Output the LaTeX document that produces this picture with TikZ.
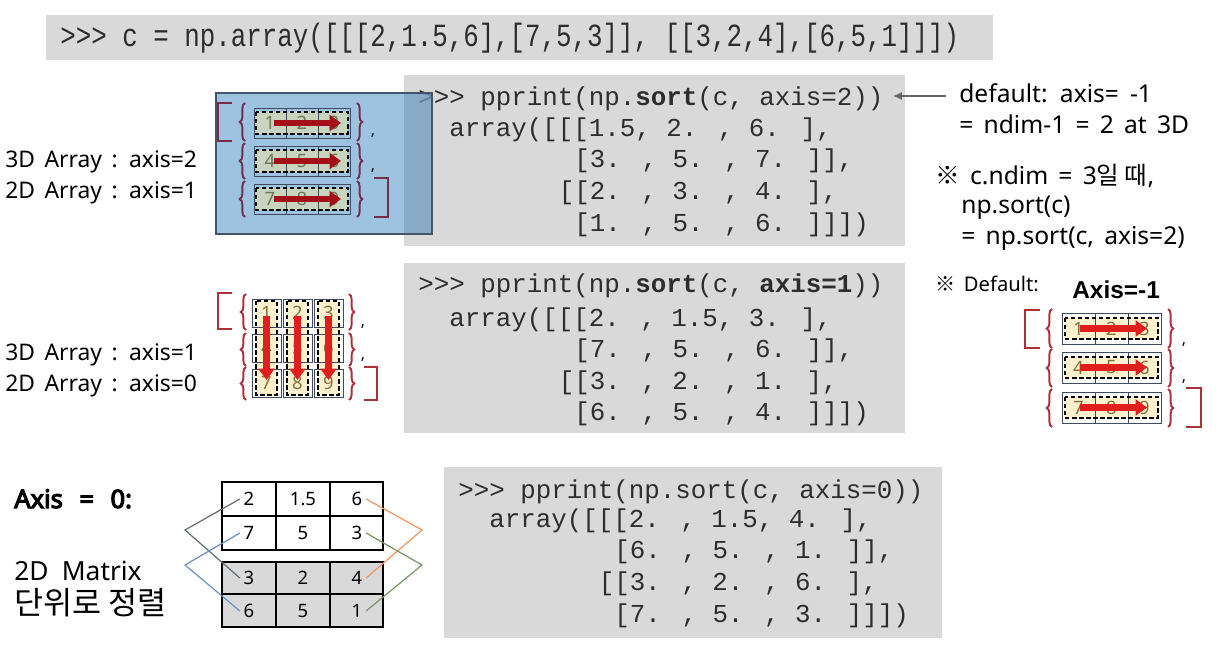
\documentclass[tikz,border=0pt]{standalone}
\usepackage{fontspec}
\setmainfont{Noto Sans}[WordSpace=1.6]
\newfontfamily\nsbold{Noto Sans}[FakeBold=4.5,WordSpace=1.6]
\newfontfamily\kr{Noto Sans CJK KR}
\newfontfamily\codefont{Liberation Mono}
\newfontfamily\arialfont{Liberation Sans}
\usetikzlibrary{arrows.meta,decorations.pathreplacing}
\definecolor{codebg}{RGB}{217,217,217}
\definecolor{codefg}{RGB}{45,45,45}
\definecolor{brc}{RGB}{176,48,58}
\definecolor{beige}{RGB}{253,240,205}
\definecolor{numcol}{RGB}{135,115,60}
\definecolor{arrred}{RGB}{225,30,30}
\definecolor{cellline}{RGB}{60,75,95}
\definecolor{ovblue}{RGB}{115,169,212}
\definecolor{ovline}{RGB}{68,84,106}
\definecolor{dkred}{RGB}{165,15,25}
\definecolor{dkbrc}{RGB}{120,45,75}
\definecolor{dkbeige}{RGB}{200,212,190}
\definecolor{dknum}{RGB}{110,120,90}
\definecolor{gline}{RGB}{100,110,120}
\definecolor{bline}{RGB}{110,145,195}
\definecolor{oline}{RGB}{240,150,95}
\definecolor{vline}{RGB}{120,150,100}
\definecolor{gridfill}{RGB}{217,217,217}
\begin{document}
\begin{tikzpicture}[x=0.02cm,y=-0.02cm,
 codebox/.style={fill=codebg,draw=none},
 code/.style={font=\codefont\fontsize{14.7}{17}\selectfont, text=codefg, anchor=base west, inner sep=0pt},
 lbl/.style={font=\fontsize{13}{16}\selectfont, anchor=base west, inner sep=0pt},
 note/.style={font=\fontsize{14}{17}\selectfont, anchor=base west, inner sep=0pt},
 cellbox/.style={draw=cellline, line width=0.5pt},
 dashbox/.style={draw=black, line width=0.9pt, dash pattern=on 2.5pt off 1.5pt},
 num/.style={font=\fontsize{10.5}{12}\selectfont, text=numcol, inner sep=0pt},
 redarrow/.style={draw=arrred, line width=3.6pt, -{Triangle[length=6.5pt,width=9pt]}},
 bracestyle/.style={decorate, decoration={brace,amplitude=3pt}, draw=brc, line width=1.1pt},
 bkt/.style={draw=brc, line width=1.4pt},
 comma/.style={font=\fontsize{9}{10}\selectfont, inner sep=0pt, anchor=base},
 gnum/.style={font=\fontsize{10.5}{12}\selectfont, inner sep=2pt},
 conn/.style={line width=0.7pt},
 gridline/.style={draw=black, line width=1.1pt},
]
\path[use as bounding box] (0,0) rectangle (1217,645);

% ---------- top bar ----------
\path[codebox] (46,15) rectangle (993,60);
\node[code] (top) at (60,47) {\scalebox{1}[1.25]{>{}>{}> c = np.array([[[2,1.5,6],[7,5,3]], [[3,2,4],[6,5,1]]])}};

% ---------- code box 1 ----------
\path[codebox] (404,75) rectangle (905,246);
\node[code] (c1a) at (418,106) {>{}>{}> pprint(np.{\bfseries sort}(c, axis=2))};
\node[code] (c1b) at (449,137) {array([[[1.5, 2. , 6. ],};
\node[code] (c1c) at (574,168) {[3. , 5. , 7. ]],};
\node[code] (c1d) at (558.4,200) {[[2. , 3. , 4. ],};
\node[code] (c1e) at (574,232) {[1. , 5. , 6. ]]])};

% ---------- code box 2 ----------
\path[codebox] (404,263) rectangle (905,433);
\node[code] (c2a) at (418,293) {>{}>{}> pprint(np.{\bfseries sort}(c, {\bfseries axis=1}))};
\node[code] (c2b) at (449,326) {array([[[2. , 1.5, 3. ],};
\node[code] (c2c) at (574,357) {[7. , 5. , 6. ]],};
\node[code] (c2d) at (558.4,389) {[[3. , 2. , 1. ],};
\node[code] (c2e) at (574,420) {[6. , 5. , 4. ]]])};

% ---------- code box 3 ----------
\path[codebox] (444,467) rectangle (942,638);
\node[code] (c3a) at (458,498) {>{}>{}> pprint(np.sort(c, axis=0))};
\node[code] (c3b) at (489,527) {array([[[2. , 1.5, 4. ],};
\node[code] (c3c) at (614,558) {[6. , 5. , 1. ]],};
\node[code] (c3d) at (598.4,590) {[[3. , 2. , 6. ],};
\node[code] (c3e) at (614,622) {[7. , 5. , 3. ]]])};

% ---------- left labels ----------
\node[lbl] (l1a) at (5,168) {3D Array : axis=2};
\node[lbl] (l1b) at (5,199) {2D Array : axis=1};
\node[lbl] (l2a) at (5,360) {3D Array : axis=1};
\node[lbl] (l2b) at (5,391) {2D Array : axis=0};

% ---------- diagram 1 (axis=2), under translucent blue ----------
\fill[ovblue, fill opacity=0.7] (216,93) rectangle (432,234);
\foreach \yt/\a/\b/\c in {108/1/2/3,146/4/5/6,184/7/8/9}{
  \fill[dkbeige] (256,\yt+4) rectangle (348,\yt+26);
  \foreach \i in {0,1,2} \draw[cellbox] (254+32*\i,\yt) rectangle ++(32,30);
  \node[num, text=dknum] (dA\a) at (270,\yt+15) {\a};
  \node[num, text=dknum] (dA\b) at (302,\yt+15) {\b};
  \node[num, text=dknum] (dA\c) at (334,\yt+15) {\c};
  \draw[dashbox] (256,\yt+4) rectangle (348,\yt+26);
  \draw[redarrow, draw=dkred] (274,\yt+15) -- (341,\yt+15);
}
\foreach \ya/\yb in {103/141,143/179,181/217}{
  \draw[bracestyle, draw=dkbrc] (245,\yb) -- (245,\ya);
  \draw[bracestyle, draw=dkbrc] (357,\ya) -- (357,\yb);
}
\draw[bkt, draw=dkbrc] (232,103) -- (218,103) -- (218,141) -- (232,141);
\draw[bkt, draw=dkbrc] (374,178) -- (388,178) -- (388,217) -- (374,217);
\node[comma] (dAc1) at (373,136) {,};
\node[comma] (dAc2) at (373,171) {,};
\draw[draw=ovline, line width=1.7pt] (216,93) rectangle (432,234);
\fill[ovline, fill opacity=0.12] (404,94) rectangle (431,233);

% ---------- diagram 2 (axis=1) ----------
\foreach \xc/\t/\m/\bt in {252/1/4/7,283/2/5/8,314/3/6/9}{
  \fill[beige] (\xc+4,301) rectangle (\xc+25,395);
  \foreach \yr in {299,334,369} \draw[cellbox] (\xc,\yr) rectangle ++(29,28);
  \node[num] (dB\t) at (\xc+14.5,313) {\t};
  \node[num] (dB\m) at (\xc+14.5,348) {\m};
  \node[num] (dB\bt) at (\xc+14.5,383) {\bt};
  \draw[dashbox] (\xc+4,301) rectangle (\xc+25,395);
  \draw[redarrow] (\xc+14.5,316) -- (\xc+14.5,380);
}
\foreach \ya/\yb in {294/330,333/366,367/400}{
  \draw[bracestyle] (246,\yb) -- (246,\ya);
  \draw[bracestyle] (349,\ya) -- (349,\yb);
}
\draw[bkt] (232,293) -- (218,293) -- (218,329) -- (232,329);
\draw[bkt] (364,367) -- (377,367) -- (377,400) -- (364,400);
\node[comma] (dBc1) at (363,326) {,};
\node[comma] (dBc2) at (363,359) {,};

% ---------- right notes ----------
\node[note] (n1) at (959,103) {default: axis=\hspace{0.45em}-1};
\node[note] (n2) at (959,134) {= ndim-1 = 2 at 3D};
\node[note] (n3) at (935,185) {{\kr ※} c.ndim = 3{\kr 일 때},};
\node[note] (n4) at (961,214) {np.sort(c)};
\node[note] (n5) at (961,245) {= np.sort(c, axis=2)};
\coordinate (arrS) at (946,96);
\coordinate (arrE) at (893,96);
\draw[draw=black!60, line width=0.8pt, -{Latex[length=5pt,width=4.5pt]}] (arrS) -- (arrE);

\node[font=\fontsize{11.5}{13}\selectfont, anchor=base west, inner sep=0pt] (dft) at (935,292) {{\kr ※} Default:};
\node[font=\arialfont\bfseries\fontsize{13.9}{16}\selectfont, anchor=base west, inner sep=0pt] (axm1) at (1072,298) {Axis=-1};

% ---------- diagram 3 (axis=-1) ----------
\foreach \yt/\a/\b/\c in {313/1/2/3,352/4/5/6,392/7/8/9}{
  \fill[beige] (1065,\yt+5) rectangle (1158,\yt+26);
  \foreach \i in {0,1,2} \draw[cellbox] (1062+33*\i,\yt) rectangle ++(33,31);
  \node[num] (dC\a) at (1078.5,\yt+15.5) {\a};
  \node[num] (dC\b) at (1111.5,\yt+15.5) {\b};
  \node[num] (dC\c) at (1144.5,\yt+15.5) {\c};
  \draw[dashbox] (1065,\yt+5) rectangle (1158,\yt+26);
  \draw[redarrow] (1080,\yt+15.5) -- (1147,\yt+15.5);
}
\foreach \ya/\yb in {309/348,349/387,389/427}{
  \draw[bracestyle] (1052,\yb) -- (1052,\ya);
  \draw[bracestyle] (1168,\ya) -- (1168,\yb);
}
\draw[bkt] (1040,310) -- (1025,310) -- (1025,348) -- (1040,348);
\draw[bkt] (1186,388) -- (1201,388) -- (1201,427) -- (1186,427);
\node[comma] (dCc1) at (1184,344) {,};
\node[comma] (dCc2) at (1184,381) {,};

% ---------- axis = 0 ----------
\node[font=\nsbold\fontsize{14.5}{17}\selectfont, anchor=base west, inner sep=0pt] (ax0) at (14,508) {Axis\hspace{0.65em}=\hspace{0.65em}0:};
\node[font=\fontsize{15}{18}\selectfont, anchor=base west, inner sep=0pt] (m1) at (14,580) {2D\hspace{0.5em}Matrix};
\node[font=\kr\fontsize{18}{21}\selectfont, anchor=base west, inner sep=0pt] (m2) at (14,614) {단위로 정렬};

\fill[gridfill] (222,562) rectangle (383,627);
\draw[gridline] (222,482) rectangle (383,550);
\draw[gridline] (222,516) -- (383,516);
\draw[gridline] (276,482) -- (276,550);
\draw[gridline] (330,482) -- (330,550);
\draw[gridline] (222,562) rectangle (383,627);
\draw[gridline] (222,594) -- (383,594);
\draw[gridline] (276,562) -- (276,627);
\draw[gridline] (330,562) -- (330,627);

\node[gnum] (g11) at (249,499) {2};
\node[gnum] (g12) at (303,499) {1.5};
\node[gnum] (g13) at (357,499) {6};
\node[gnum] (g21) at (249,533) {7};
\node[gnum] (g22) at (303,533) {5};
\node[gnum] (g23) at (357,533) {3};
\node[gnum] (g31) at (249,578) {3};
\node[gnum] (g32) at (303,578) {2};
\node[gnum] (g33) at (357,578) {4};
\node[gnum] (g41) at (249,611) {6};
\node[gnum] (g42) at (303,611) {5};
\node[gnum] (g43) at (357,611) {1};

\coordinate (kL1) at (185,530);
\coordinate (kL2) at (185,565);
\coordinate (kR1) at (422,530);
\coordinate (kR2) at (422,565);
\draw[conn, gline] (g11.west) -- (kL1) -- (g31.west);
\draw[conn, bline] (g21.west) -- (kL2) -- (g41.west);
\draw[conn, oline] (g13.east) -- (kR1) -- (g33.east);
\draw[conn, vline] (g23.east) -- (kR2) -- (g43.east);
\end{tikzpicture}
\end{document}
